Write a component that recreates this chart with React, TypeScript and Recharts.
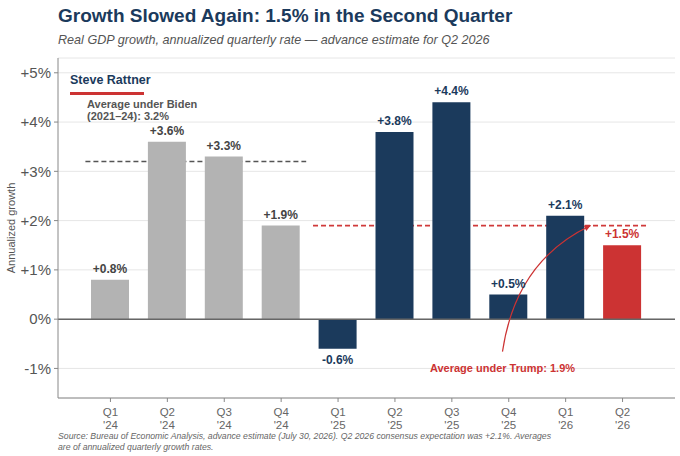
import React from "react";
import {
  BarChart,
  Bar,
  XAxis,
  YAxis,
  CartesianGrid,
  ReferenceLine,
  Cell,
} from "recharts";

const quarters = ["Q1", "Q2", "Q3", "Q4", "Q1", "Q2", "Q3", "Q4", "Q1", "Q2"];
const years = ["'24", "'24", "'24", "'24", "'25", "'25", "'25", "'25", "'26", "'26"];
const growth = [0.8, 3.6, 3.3, 1.9, -0.6, 3.8, 4.4, 0.5, 2.1, 1.5];
const era = ["biden", "biden", "biden", "biden", "trump", "trump", "trump", "trump", "trump", "latest"];
const yTicks = [-1, 0, 1, 2, 3, 4, 5];

const bidenAvg = 3.2;
const trumpAvg = 1.9;

const FONT = '"Liberation Sans", Arial, sans-serif';
const NAVY = "#1b3a5c";
const RED = "#cc3333";

const barColors: Record<string, string> = {
  biden: "#b3b3b3",
  trump: NAVY,
  latest: RED,
};

const labelColors: Record<string, string> = {
  biden: "#444444",
  trump: NAVY,
  latest: RED,
};

const chartData = quarters.map((q, i) => ({
  key: `${q} ${years[i]}`,
  growth: growth[i],
  era: era[i],
}));

const keyOf = (i: number) => chartData[i].key;

function fmt(v: number) {
  return (v > 0 ? "+" : "") + v.toFixed(1) + "%";
}

function BarLabel(props: any) {
  const { x, y, width, height, value, index } = props;
  const top = Math.min(y, y + height);
  const bottom = Math.max(y, y + height);
  const e = chartData[index]?.era ?? "trump";
  return (
    <text
      x={x + width / 2}
      y={value < 0 ? bottom + 15 : top - 7}
      textAnchor="middle"
      fontFamily={FONT}
      fontSize={12}
      fontWeight="bold"
      fill={labelColors[e]}
    >
      {fmt(value)}
    </text>
  );
}

function QuarterTick(props: any) {
  const { x, y, payload } = props;
  const [q, yr] = String(payload.value).split(" ");
  return (
    <g transform={`translate(${x},${y})`}>
      <text x={0} y={12} textAnchor="middle" fontFamily={FONT} fontSize={11.5} fill="#666">
        {q}
      </text>
      <text x={0} y={25} textAnchor="middle" fontFamily={FONT} fontSize={11.5} fill="#666">
        {yr}
      </text>
    </g>
  );
}

// dashed average line stretched past the outer bar centres (bands = number of gaps)
function avgLine(bands: number, color: string) {
  return (props: any) => {
    const { x1, y1, x2 } = props;
    const band = (x2 - x1) / bands;
    return (
      <line
        x1={x1 - band * 0.44}
        x2={x2 + band * 0.44}
        y1={y1}
        y2={y1}
        stroke={color}
        strokeWidth={1.7}
        strokeDasharray="5 3"
      />
    );
  };
}

function TrumpArrow(props: any) {
  const band = props.x2 - props.x1;
  const x1 = props.x1 - band * 0.11;
  const y1 = props.y1;
  const x2 = props.x2 + band * 0.44;
  const y2 = props.y2;
  const cx = x1 + (x2 - x1) * 0.15;
  const cy = y1 + (y2 - y1) * 0.72;
  const ang = Math.atan2(y2 - cy, x2 - cx);
  const len = 7;
  const spread = 0.45;
  const ax = x2 - len * Math.cos(ang - spread);
  const ay = y2 - len * Math.sin(ang - spread);
  const bx = x2 - len * Math.cos(ang + spread);
  const by = y2 - len * Math.sin(ang + spread);
  return (
    <g>
      <path d={`M${x1},${y1} Q${cx},${cy} ${x2},${y2}`} fill="none" stroke={RED} strokeWidth={1.2} />
      <path d={`M${x2},${y2} L${ax},${ay} L${bx},${by} Z`} fill={RED} />
      <text
        x={x1}
        y={y1 + 20}
        textAnchor="middle"
        fontFamily={FONT}
        fontSize={11}
        fontWeight="bold"
        fill={RED}
      >
        Average under Trump: {trumpAvg}%
      </text>
    </g>
  );
}

export default function App() {
  return (
    <div
      style={{
        position: "absolute",
        left: 0,
        top: 0,
        width: 680,
        height: 456,
        background: "#fff",
        fontFamily: FONT,
      }}
    >
      <div
        style={{
          position: "absolute",
          left: 58,
          top: 4,
          fontSize: 19,
          lineHeight: "24px",
          fontWeight: "bold",
          color: NAVY,
          whiteSpace: "nowrap",
        }}
      >
        Growth Slowed Again: 1.5% in the Second Quarter
      </div>
      <div
        style={{
          position: "absolute",
          left: 58,
          top: 32,
          fontSize: 12.6,
          lineHeight: "16px",
          fontStyle: "italic",
          color: "#555",
          whiteSpace: "nowrap",
        }}
      >
        Real GDP growth, annualized quarterly rate — advance estimate for Q2 2026
      </div>

      <BarChart
        width={680}
        height={456}
        data={chartData}
        margin={{ top: 58, right: 5, bottom: 28, left: 8 }}
        style={{ position: "absolute", left: 0, top: 0 }}
      >
        <CartesianGrid vertical={false} stroke="#e6e6e6" />
        <XAxis
          dataKey="key"
          type="category"
          padding={{ left: 24, right: 24 }}
          stroke="#888"
          tickSize={4}
          tickMargin={2}
          tick={<QuarterTick />}
          interval={0}
          height={30}
        />
        <YAxis
          domain={[-1.6, 5.3]}
          ticks={yTicks}
          width={50}
          stroke="#888"
          tickSize={4}
          tickMargin={3}
          tickFormatter={(v: number) => (v > 0 ? `+${v}%` : `${v}%`)}
          tick={{ fontSize: 15, fill: "#555", fontFamily: FONT }}
          allowDataOverflow
          label={{
            value: "Annualized growth",
            angle: -90,
            position: "insideLeft",
            offset: 3,
            style: { fontSize: 11, fill: "#555", fontFamily: FONT, textAnchor: "middle" },
          }}
        />
        <ReferenceLine
          segment={[
            { x: keyOf(0), y: bidenAvg },
            { x: keyOf(3), y: bidenAvg },
          ]}
          shape={avgLine(3, "#555")}
          zIndex={0}
        />
        <ReferenceLine
          segment={[
            { x: keyOf(4), y: trumpAvg },
            { x: keyOf(9), y: trumpAvg },
          ]}
          shape={avgLine(5, "#d03a3a")}
          zIndex={0}
        />
        <Bar dataKey="growth" barSize={38} isAnimationActive={false} label={<BarLabel />}>
          {chartData.map((d) => (
            <Cell key={d.key} fill={barColors[d.era]} />
          ))}
        </Bar>
        <ReferenceLine y={0} stroke="#666" strokeWidth={1.5} />
        <ReferenceLine
          segment={[
            { x: keyOf(7), y: -0.66 },
            { x: keyOf(8), y: trumpAvg },
          ]}
          shape={<TrumpArrow />}
          zIndex={1000}
        />
      </BarChart>

      <div
        style={{
          position: "absolute",
          left: 70,
          top: 72,
          fontSize: 12.5,
          lineHeight: "16px",
          fontWeight: "bold",
          color: NAVY,
        }}
      >
        Steve Rattner
      </div>
      <div
        style={{
          position: "absolute",
          left: 70,
          top: 92,
          width: 74,
          height: 2.5,
          background: RED,
        }}
      />
      <div
        style={{
          position: "absolute",
          left: 87,
          top: 98,
          fontSize: 11,
          lineHeight: "12px",
          fontWeight: "bold",
          color: "#555",
          whiteSpace: "nowrap",
        }}
      >
        Average under Biden
        <br />
        (2021–24): {bidenAvg}%
      </div>

      <div
        style={{
          position: "absolute",
          left: 58,
          top: 431,
          fontSize: 8.7,
          lineHeight: "10.5px",
          fontStyle: "italic",
          color: "#666",
          whiteSpace: "nowrap",
        }}
      >
        Source: Bureau of Economic Analysis, advance estimate (July 30, 2026). Q2 2026 consensus
        expectation was +2.1%. Averages
        <br />
        are of annualized quarterly growth rates.
      </div>
    </div>
  );
}
